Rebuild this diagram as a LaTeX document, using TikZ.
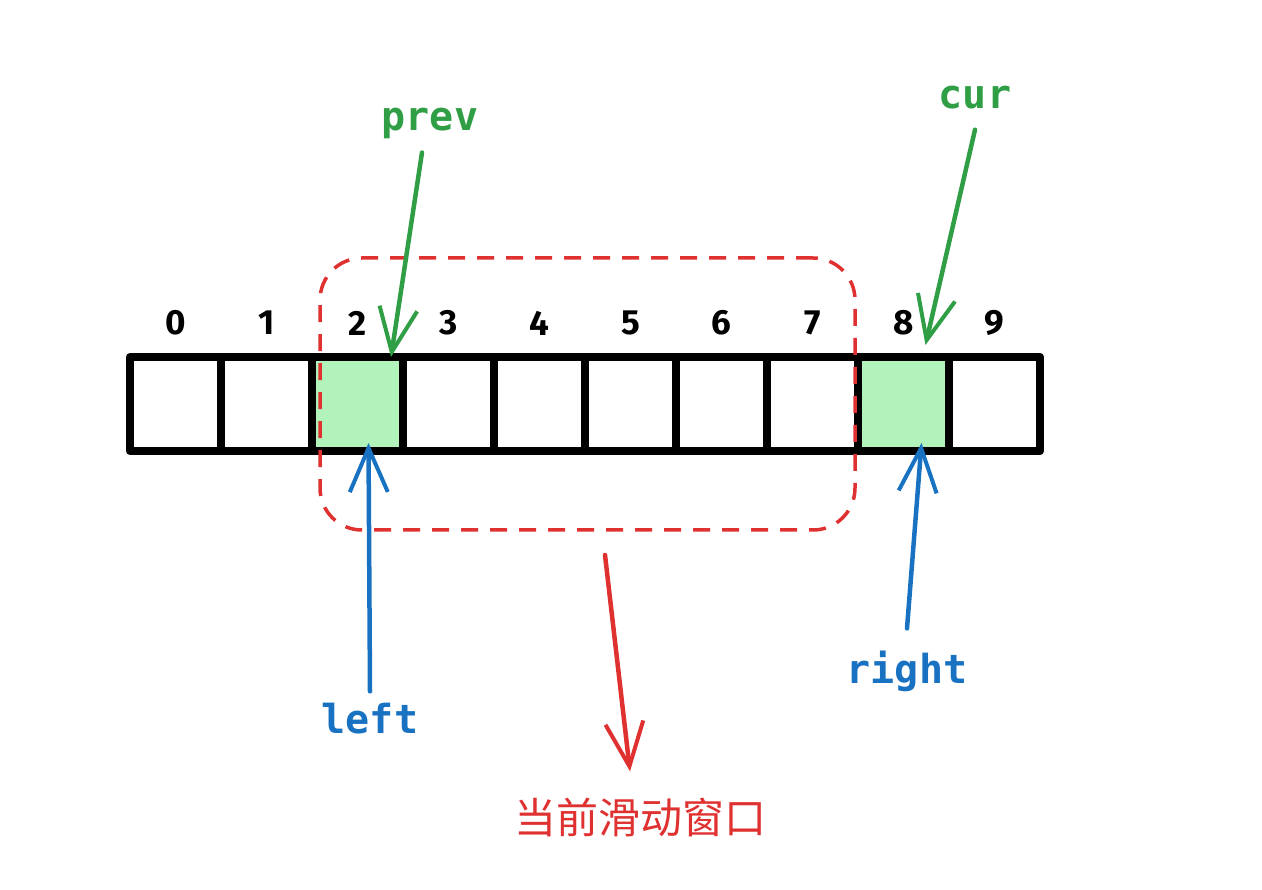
\documentclass[tikz,border=0pt]{standalone}
\usepackage{fontspec}
\usetikzlibrary{arrows.meta}
\newfontfamily\monolab{DejaVu Sans Mono}
\newfontfamily\cjk{Noto Sans CJK SC}
\newfontfamily\digitfont{Fira Sans}
\definecolor{exgreen}{HTML}{2F9E44}
\definecolor{exblue}{HTML}{1971C2}
\definecolor{exred}{HTML}{E03131}
\definecolor{exfill}{HTML}{B2F2BB}
\tikzset{
  cellbox/.style={draw=black, line width=8pt, minimum width=91pt, minimum height=94pt, inner sep=0pt, outer sep=0pt, line join=round},
  idx/.style={font=\digitfont\bfseries\fontsize{35}{40}\selectfont, inner sep=0pt},
  varlab/.style={font=\monolab\bfseries\fontsize{40}{44}\selectfont, inner sep=0pt},
  ptr/.style={line width=4.5pt, line cap=round, -{Straight Barb[length=44pt, width=38pt, line width=4pt]}},
  winbox/.style={draw=exred, line width=3.5pt, dash pattern=on 17pt off 12pt, rounded corners=42pt, minimum width=535pt, minimum height=272pt, inner sep=0pt},
}
\begin{document}
\begin{tikzpicture}[x=1pt, y=-1pt]
\useasboundingbox (0,0) rectangle (1262,890);
% cells
\foreach \i in {0,...,9} {
  \pgfmathsetmacro{\cx}{130+91*(\i+0.5)}
  \node[cellbox] (c\i) at (\cx,404) {};
  \node[idx] (n\i) at (\cx,323) {\i};
}
\node[cellbox, fill=exfill] (c2) at (357.5,404) {};
\node[cellbox, fill=exfill] (c8) at (903.5,404) {};
% window
\node[winbox] (win) at (587.5,394) {};
% labels
\node[varlab, text=exgreen] (prev) at (430,123) {prev};
\node[varlab, text=exgreen] (cur) at (975,98) {cur};
\node[varlab, text=exblue] (left) at (370,719) {left};
\node[varlab, text=exblue] (right) at (907,671) {right};
\node[font=\cjk\fontsize{42}{46}\selectfont, text=exred, inner sep=0pt] (wlab) at (640,817) {当前滑动窗口};
% arrows
\coordinate (prevtip) at ([xshift=-12pt]c2.north east);
\coordinate (curtip) at ([xshift=22pt, yshift=12pt]c8.north);
\coordinate (lefttip) at ([xshift=11pt, yshift=8pt]c2.south);
\coordinate (righttip) at ([xshift=18pt, yshift=8pt]c8.south);
\coordinate (wstart) at (605,555);
\draw[ptr, exgreen] ([xshift=-8pt, yshift=-14pt]prev.south) -- (prevtip);
\draw[ptr, exgreen] ([yshift=-20pt]cur.south) -- (curtip);
\draw[ptr, exblue] ([yshift=12pt]left.north) -- (lefttip);
\draw[ptr, exblue] ([yshift=22pt]right.north) -- (righttip);
\draw[ptr, exred] (wstart) -- ([xshift=-10pt, yshift=26pt]wlab.north);
\end{tikzpicture}
\end{document}
